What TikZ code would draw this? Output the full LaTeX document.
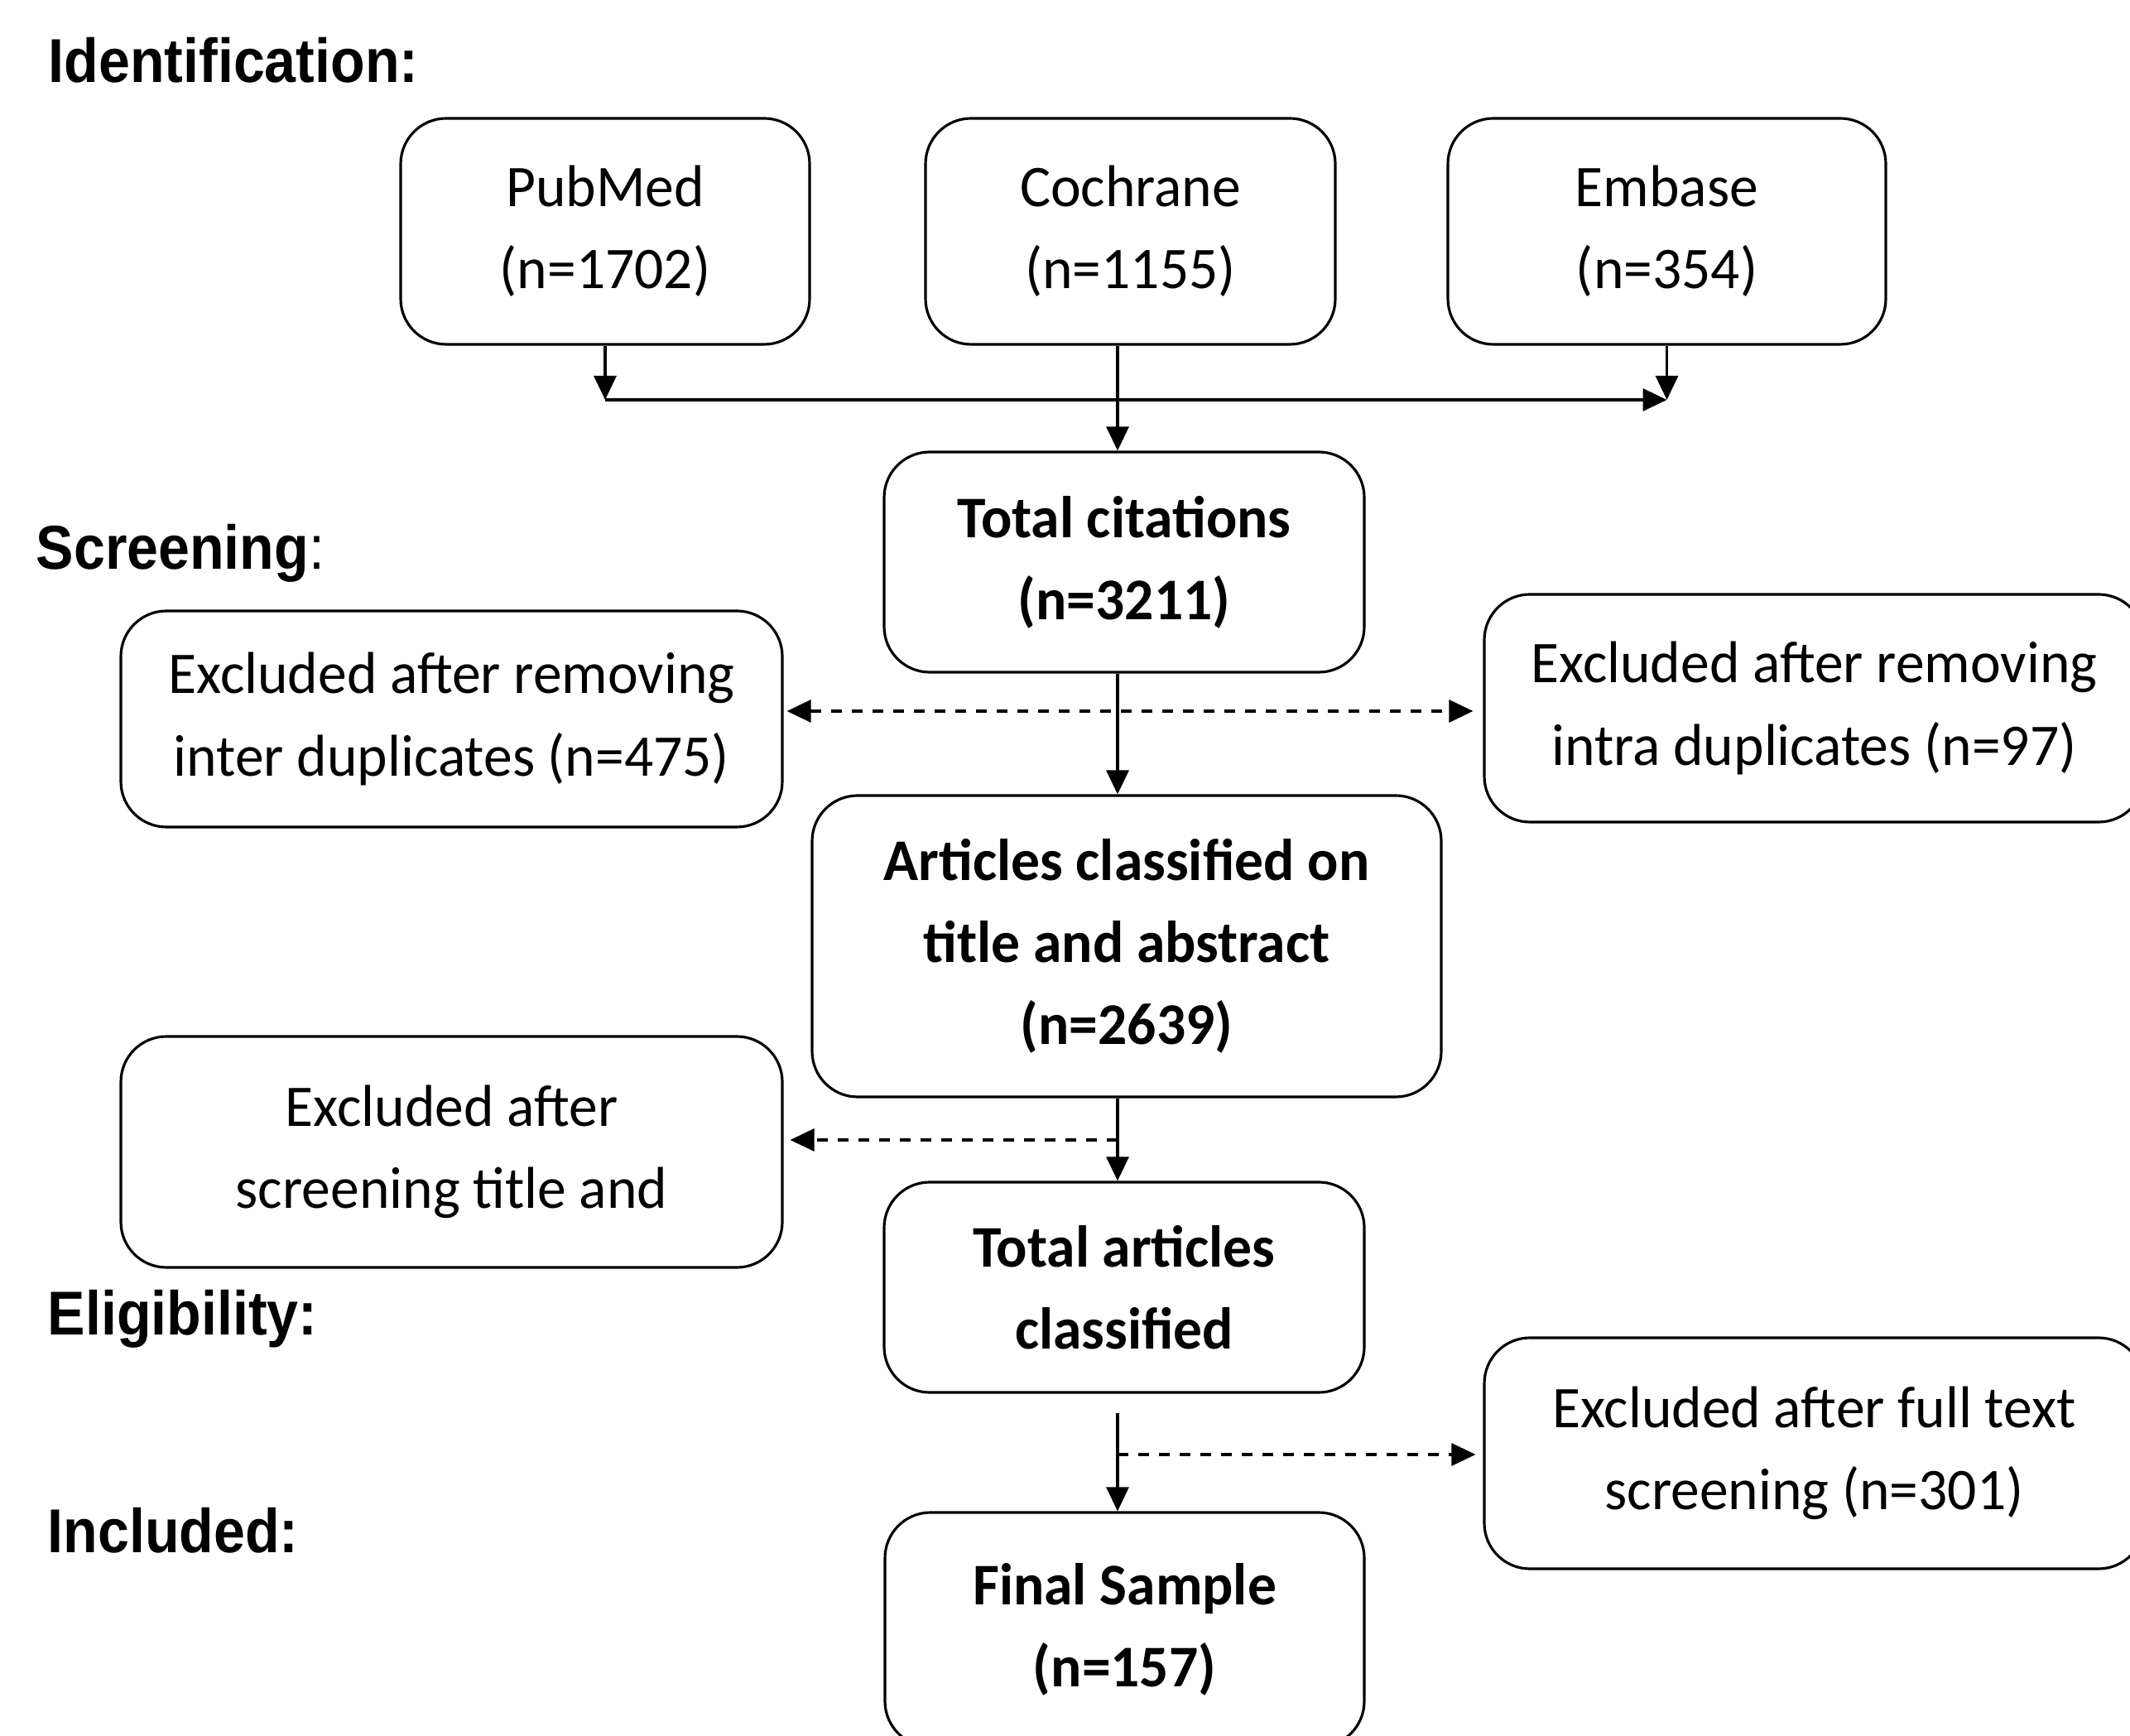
\documentclass[tikz,border=0pt]{standalone}
\usepackage{fontspec}
\setmainfont{Carlito}[FakeStretch=0.975]
\newfontfamily\hdrfont{Liberation Sans}[FakeStretch=0.91]
\usepackage{tikz}
\usetikzlibrary{arrows.meta}
\tikzset{box/.style={draw, line width=0.9pt, rounded corners=0.55cm, inner sep=0, align=center, font=\fontsize{20.3}{28.2}\selectfont}}
\tikzset{boldbox/.style={box, font=\fontsize{20.3}{28.2}\selectfont\bfseries}}
\tikzset{hdr/.style={anchor=base west, inner sep=0, font=\hdrfont\fontsize{21.3}{25}\selectfont\bfseries}}
\tikzset{flow/.style={line width=0.9pt}}
\tikzset{skip/.style={flow, dash pattern=on 1.3mm off 1.2mm}}
\tikzset{>={Triangle[length=2.9mm, width=2.7mm]}}

\begin{document}
\begin{tikzpicture}
    \useasboundingbox[fill=white] (0, 0) rectangle (25.73, 20.96);

    % stage headings
    \node[hdr] at (0.58, 19.96) (hid) {Identification:};
    \node[hdr] at (0.43, 14.08) (hsc) {Screening\mdseries:};
    \node[hdr] at (0.57, 4.83) (hel) {Eligibility:};
    \node[hdr] at (0.57, 2.21) (hin) {Included:};

    % databases
    \node[box, minimum width=4.94cm, minimum height=2.73cm] at (7.31, 18.165) (pub) {PubMed\\(n=1702)};
    \node[box, minimum width=4.95cm, minimum height=2.73cm] at (13.655, 18.165) (coc) {Cochrane\\(n=1155)};
    \node[box, minimum width=5.29cm, minimum height=2.73cm] at (20.135, 18.165) (emb) {Embase\\(n=354)};

    % main column
    \node[boldbox, minimum width=5.8cm, minimum height=2.66cm] at (13.58, 14.17) (tot) {Total citations\\(n=3211)};
    \node[boldbox, minimum width=7.6cm, minimum height=3.64cm] at (13.61, 9.53) (art) {Articles classified on\\title and abstract\\(n=2639)};
    \node[boldbox, minimum width=5.8cm, minimum height=2.54cm] at (13.58, 5.41) (tac) {Total articles\\classified};
    \node[boldbox, minimum width=5.79cm, minimum height=2.83cm] at (13.585, 1.275) (fin) {Final Sample\\(n=157)};

    % exclusions
    \node[box, minimum width=7.99cm, minimum height=2.61cm] at (5.455, 12.275) (inter) {Excluded after removing\\inter duplicates (n=475)};
    \node[box, minimum width=7.97cm, minimum height=2.75cm] at (21.915, 12.405) (intra) {Excluded after removing\\intra duplicates (n=97)};
    \node[box, minimum width=7.99cm, minimum height=2.79cm] at (5.455, 7.045) (scr) {Excluded after\\screening title and};
    \node[box, minimum width=7.97cm, minimum height=2.79cm] at (21.915, 3.405) (ful) {Excluded after full text\\screening (n=301)};

    \coordinate (spine) at (13.5, 0);
    \coordinate (jn) at (13.5, 16.13);
    \coordinate (d1) at (13.5, 12.37);
    \coordinate (d2) at (13.5, 7.19);
    \coordinate (d3) at (13.5, 3.39);

    \draw[flow] (pub.south) edge[->] (pub.south |- jn);
    \draw[flow] (pub.south |- jn) edge[->] (emb.south |- jn);
    \draw[flow] (emb.south) edge[->] (emb.south |- jn);
    \draw[flow] (coc.south -| spine) edge[->] (tot.north -| spine);

    \draw[flow] (tot.south -| spine) edge[->] (art.north -| spine);
    \draw[skip, <->, shorten <=0.4mm, shorten >=1.2mm] (inter.east |- d1) -- (intra.west |- d1);

    \draw[flow] (art.south -| spine) edge[->] (tac.north -| spine);
    \draw[skip, ->, shorten >=0.8mm] (d2) -- (scr.east |- d2);

    \draw[flow, shorten <=2.3mm] (tac.south -| spine) edge[->] (fin.north -| spine);
    \draw[skip, ->, shorten >=0.9mm] (d3) -- (ful.west |- d3);
\end{tikzpicture}
\end{document}
